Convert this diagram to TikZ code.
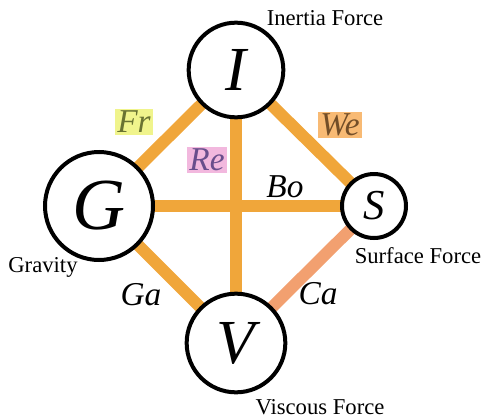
\documentclass[tikz,border=0pt]{standalone}
\usepackage{fontspec}
\setmainfont{Liberation Serif}
\usetikzlibrary{backgrounds}
\definecolor{linkorange}{RGB}{240,166,58}
\definecolor{linksalmon}{RGB}{242,160,112}
\definecolor{frbg}{RGB}{240,244,140}
\definecolor{webg}{RGB}{248,186,116}
\definecolor{rebg}{RGB}{242,184,222}
\definecolor{frtext}{RGB}{105,115,50}
\definecolor{wetext}{RGB}{115,78,40}
\definecolor{retext}{RGB}{105,78,140}
\begin{document}
\begin{tikzpicture}[x=0.75pt,y=-0.75pt,
  force/.style={circle, draw, line width=3pt, fill=white, inner sep=0pt},
  link/.style={linkorange, line width=9pt},
  number/.style={font=\fontsize{25}{28}\selectfont\itshape, inner sep=1.5pt},
  caption/.style={font=\fontsize{17}{20}\selectfont, inner sep=0pt}]
  \useasboundingbox (0,0) rectangle (486,418);
  % the four forces
  \node[force, minimum size=71pt, font=\fontsize{47}{50}\selectfont\itshape] (I) at (236,70) {I};
  \node[force, minimum size=81pt, font=\fontsize{55}{58}\selectfont\itshape] (G) at (99,206) {G};
  \node[force, minimum size=48pt, font=\fontsize{32}{35}\selectfont\itshape] (S) at (374,206) {S};
  \node[force, minimum size=74pt, font=\fontsize{47}{50}\selectfont\itshape] (V) at (236,343) {V};
  \begin{scope}[on background layer]
    \foreach \a/\b in {I/G, I/S, I/V, G/S, G/V}
      \draw[link] (\a.center) -- (\b.center);
    \draw[link, linksalmon] (S.center) -- (V.center);
  \end{scope}
  % dimensionless numbers
  \node[number, fill=frbg, text=frtext] (Fr) at (134,122) {Fr};
  \node[number, fill=webg, text=wetext] (We) at (340,125) {We};
  \node[number, fill=rebg, text=retext] (Re) at (207,160) {Re};
  \node[number] (Bo) at (285,187) {Bo};
  \node[number] (Ga) at (141,295) {Ga};
  \node[number] (Ca) at (318,294) {Ca};
  % captions
  \node[caption] (inertia) at (325,18) {Inertia Force};
  \node[caption] (gravity) at (43,267) {Gravity};
  \node[caption] (surface) at (418,256) {Surface Force};
  \node[caption] (viscous) at (320,407) {Viscous Force};
\end{tikzpicture}
\end{document}
